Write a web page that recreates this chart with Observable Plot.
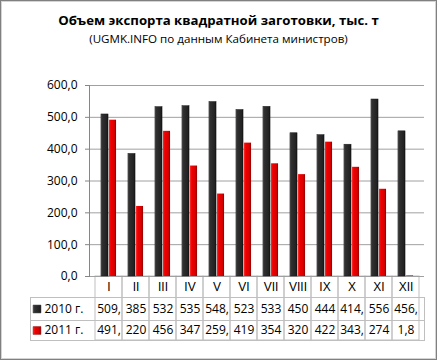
<!DOCTYPE html>
<html><head><meta charset="utf-8">
<script src="https://cdn.jsdelivr.net/npm/d3@7"></script>
<script src="https://cdn.jsdelivr.net/npm/@observablehq/plot@0.6"></script>
<style>
body{margin:0;background:#fff;}
#wrap{position:relative;width:437px;height:360px;overflow:hidden;font-family:"Open Sans",sans-serif;color:#000;background:#fff;}
#border{position:absolute;left:0;top:0;width:437px;height:360px;box-sizing:border-box;border:1px solid #808080;box-shadow:inset 0 0 0 1px #d4d4d4;pointer-events:none;}
#head{height:50px;text-align:center;}
#title{font-weight:bold;font-size:13.2px;padding-top:12px;line-height:16px;}
#subtitle{font-size:11.6px;line-height:15px;margin-top:3px;}
#chart svg{display:block;}
</style></head>
<body>
<div id="wrap">
  <div id="head">
    <div id="title">Объем экспорта квадратной заготовки, тыс. т</div>
    <div id="subtitle">(UGMK.INFO по данным Кабинета министров)</div>
  </div>
  <div id="chart"></div>
  <div id="border"></div>
</div>
<script>
const months = ["I","II","III","IV","V","VI","VII","VIII","IX","X","XI","XII"];
const series = ["2010 г.", "2011 г."];
const values2010 = [509, 385, 532, 535, 548, 523, 533, 450, 444, 414, 556, 456];
const values2011 = [491, 220, 456, 347, 259, 419, 354, 320, 422, 343, 274, 1.8];
const labels2010 = ["509,","385","532","535","548,","523","533","450","444","414,","556","456,"];
const labels2011 = ["491,","220","456","347","259,","419","354","320","422","343,","274","1,8"];
const yTicks = [0, 100, 200, 300, 400, 500, 600];

const rows = months.map((m, i) => ({month: m, v2010: values2010[i], v2011: values2011[i], l2010: labels2010[i], l2011: labels2011[i]}));

const W = 437, H = 310, mt = 35, mb = 84, ml = 89, mr = 13;
const fh = H - mt - mb;
const rowTop = 21, row2 = 44, rowBot = 64;
const tableLeft = 30;
const band = (W - ml - mr) / months.length;
const barW = 8;
const gap = (band - 2 * barW) / 2;
const gridColor = "#a0a0a0", tableColor = "#bfbfbf", axisColor = "#868686";

const chart = Plot.plot({
  width: W, height: H,
  marginTop: mt, marginBottom: mb, marginLeft: ml, marginRight: mr,
  style: {fontFamily: "'Open Sans', sans-serif", fontSize: "12px", color: "#000", background: "transparent", overflow: "visible"},
  x: {type: "band", domain: months, padding: 0, axis: null},
  y: {domain: [0, 600], axis: null},
  marks: [
    // data table grid
    Plot.cell(months, {x: d => d, fill: "none", stroke: tableColor, inset: 0, insetTop: fh, insetBottom: -rowBot}),
    Plot.frame({stroke: tableColor, insetTop: fh + rowTop, insetBottom: -rowBot, insetLeft: -(ml - tableLeft), insetRight: 0}),
    Plot.frame({stroke: tableColor, insetTop: fh + row2, insetBottom: -rowBot, insetLeft: -(ml - tableLeft), insetRight: 0}),
    // grid + axis
    Plot.ruleY(yTicks, {stroke: gridColor}),
    Plot.axisY({ticks: yTicks, tickSize: 4, tickPadding: 8, tickFormat: d => d.toFixed(1).replace(".", ","), stroke: axisColor, fill: "#000", label: null}),
    Plot.frame({anchor: "left", stroke: axisColor}),
    // bars
    Plot.barY(rows, {x: "month", y: "v2010", fill: "url(#g2010)", stroke: "#1a1a1a", strokeWidth: 0.5, insetLeft: gap, insetRight: gap + barW}),
    Plot.barY(rows, {x: "month", y: "v2011", fill: "url(#g2011)", insetLeft: gap + barW, insetRight: gap}),
    // table text
    Plot.text(months, {x: d => d, text: d => d, frameAnchor: "bottom", dy: 10.5, lineAnchor: "middle", fontFamily: "'Liberation Sans', Arial, sans-serif", fontSize: 12}),
    Plot.text(rows, {x: "month", text: "l2010", frameAnchor: "bottom", dy: 32.5, lineAnchor: "middle"}),
    Plot.text(rows, {x: "month", text: "l2011", frameAnchor: "bottom", dy: 54, lineAnchor: "middle"}),
    // legend keys
    Plot.dot([series[0]], {frameAnchor: "bottom-left", dx: -52.5, dy: 32.5, symbol: "square", r: 4.4, fill: "url(#g2010)", stroke: "#1a1a1a", strokeWidth: 0.5}),
    Plot.dot([series[1]], {frameAnchor: "bottom-left", dx: -52.5, dy: 54, symbol: "square", r: 4.4, fill: "url(#g2011)", stroke: "#8a0000", strokeWidth: 0.5}),
    Plot.text([series[0]], {frameAnchor: "bottom-left", dx: -45, dy: 32.5, text: d => d, textAnchor: "start", lineAnchor: "middle"}),
    Plot.text([series[1]], {frameAnchor: "bottom-left", dx: -45, dy: 54, text: d => d, textAnchor: "start", lineAnchor: "middle"})
  ]
});

d3.select(chart).insert("defs", ":first-child").html(
  '<linearGradient id="g2010" x1="0" x2="1" y1="0" y2="0">' +
  '<stop offset="0" stop-color="#5a5a5a"/><stop offset="0.2" stop-color="#303030"/>' +
  '<stop offset="0.8" stop-color="#222222"/><stop offset="1" stop-color="#111111"/></linearGradient>' +
  '<linearGradient id="g2011" x1="0" x2="1" y1="0" y2="0">' +
  '<stop offset="0" stop-color="#ff3030"/><stop offset="0.25" stop-color="#f00000"/>' +
  '<stop offset="0.75" stop-color="#d80000"/><stop offset="1" stop-color="#8c0000"/></linearGradient>'
);

document.getElementById("chart").appendChild(chart);
</script>
</body></html>
